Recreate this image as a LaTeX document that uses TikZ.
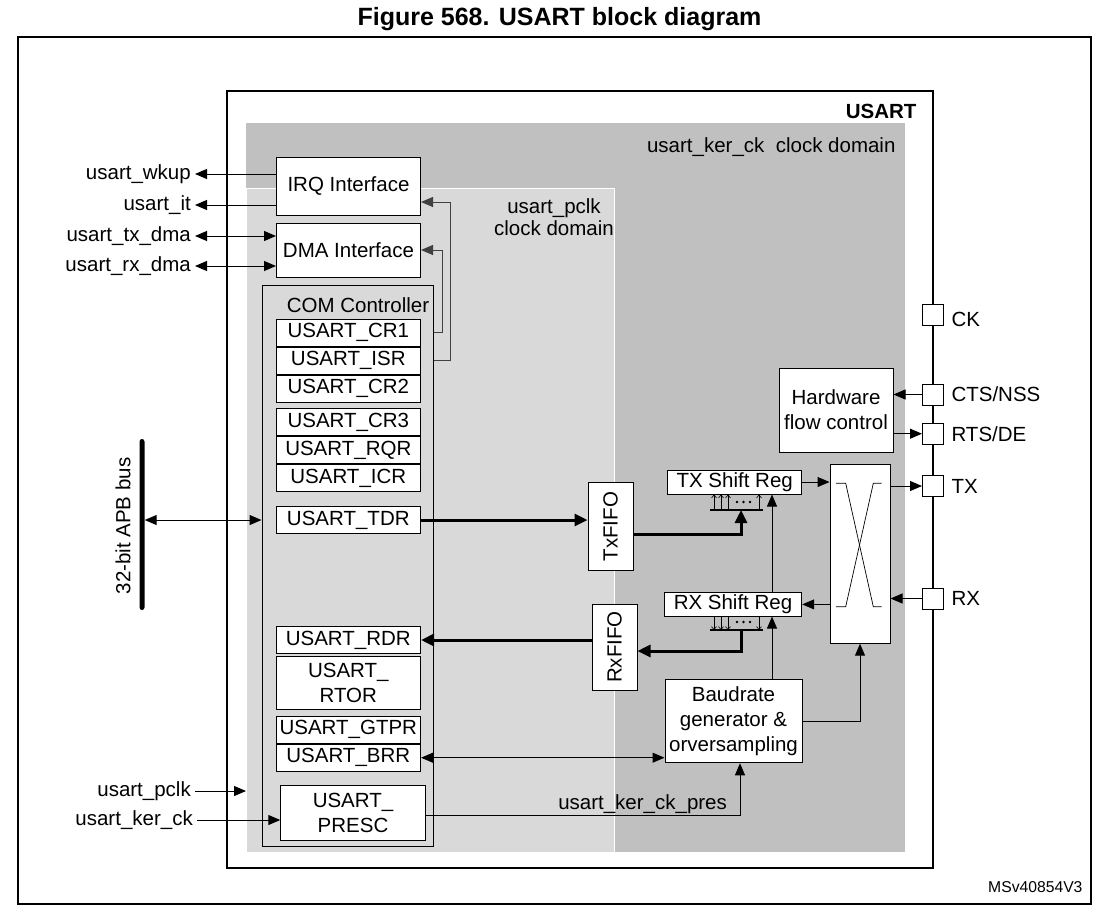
\documentclass[tikz,border=0pt]{standalone}
\usepackage{fontspec}
\setmainfont{Liberation Sans}
\usetikzlibrary{arrows.meta,positioning,calc}
\definecolor{kergray}{HTML}{C0C0C0}
\definecolor{pclkgray}{HTML}{D9D9D9}
\definecolor{fbline}{HTML}{404040}
\tikzset{
  blk/.style={draw, fill=white, line width=1pt, inner sep=0pt, align=center},
  regbox/.style={blk, minimum width=144.5pt, minimum height=27pt},
  pinbox/.style={draw, fill=white, line width=1pt, minimum size=21pt, inner sep=0pt},
  sig/.style={anchor=east, inner sep=4pt},
  arr/.style={-{Triangle[length=12pt,width=10pt]}, line width=1pt},
  darr/.style={{Triangle[length=12pt,width=10pt]}-{Triangle[length=12pt,width=10pt]}, line width=1pt},
  thk/.style={-{Triangle[length=13pt,width=12pt]}, line width=3pt},
  bitarr/.style={-{Straight Barb[length=3pt,width=5pt]}, line width=0.6pt}
}
\begin{document}
\begin{tikzpicture}[x=1pt, y=-1pt, font=\fontsize{20.5}{25}\selectfont]
\useasboundingbox (0,0) rectangle (1118,922);
\node[font=\fontsize{25}{30}\selectfont\bfseries] (title) at (559.5,19) {Figure 568. USART block diagram};
\draw[line width=2.2pt] (18,37) rectangle (1091,904);
% clock domains
\node[fill=kergray, anchor=north west, minimum width=659pt, minimum height=729pt, inner sep=0pt] (kerdom) at (246,123) {};
\node[fill=pclkgray, draw=white, line width=1pt, anchor=north west, minimum width=368pt, minimum height=664pt, inner sep=0pt] (pclkdom) at (246,188) {};
\node[draw, line width=1.5pt, anchor=north west, minimum width=706pt, minimum height=777pt, inner sep=0pt] (usart) at (226,90) {};
\node[anchor=east, font=\fontsize{20.5}{25}\selectfont\bfseries] (usartlbl) at (920,111) {USART};
\node[anchor=east] (kerlbl) at (899,147) {usart\_ker\_ck~ clock domain};
\node[align=center, font=\fontsize{20.5}{22}\selectfont] (pclklbl) at (554,217) {usart\_pclk\\clock domain};
% interfaces
\node[blk, minimum width=144pt, minimum height=58pt] (irq) at (348.5,186) {IRQ Interface};
\node[blk, minimum width=144pt, minimum height=54pt] (dma) at (348.5,250) {DMA Interface};
% COM controller and registers
\node[draw, line width=1pt, minimum width=171pt, minimum height=561pt, inner sep=0pt] (com) at (347.5,565.5) {};
\node (comlbl) at (358,305) {COM Controller};
\node[regbox] (cr1) at (348.3,332.7) {USART\_CR1};
\node[regbox, below=0pt of cr1] (isr) {USART\_ISR};
\node[regbox, below=0pt of isr] (cr2) {USART\_CR2};
\node[regbox] (cr3) at (348.3,422.3) {USART\_CR3};
\node[regbox, below=0pt of cr3] (rqr) {USART\_RQR};
\node[regbox, below=0pt of rqr] (icr) {USART\_ICR};
\node[regbox] (tdr) at (348.3,520) {USART\_TDR};
\node[regbox] (rdr) at (348.3,640) {USART\_RDR};
\node[regbox, minimum height=52.6pt] (rtor) at (348.3,683) {USART\_\\RTOR};
\node[regbox] (gtpr) at (348.3,729.7) {USART\_GTPR};
\node[regbox, below=0pt of gtpr] (brr) {USART\_BRR};
\node[blk, minimum width=144.5pt, minimum height=55pt] (presc) at (353,812.5) {USART\_\\PRESC};
% external signals
\node[sig] (wkup) at (195,174) {usart\_wkup};
\node[sig] (it) at (195,205) {usart\_it};
\node[sig] (txdma) at (195,236) {usart\_tx\_dma};
\node[sig] (rxdma) at (195,266) {usart\_rx\_dma};
\node[sig] (pclk) at (195,791) {usart\_pclk};
\node[sig] (kerck) at (197,820) {usart\_ker\_ck};
\node[fill=black, minimum width=5pt, minimum height=171pt, inner sep=0pt, rounded corners=2.5pt] (apb) at (142,524.5) {};
\node[rotate=90] (apblbl) at (123,526) {32-bit APB bus};
% data path
\node[blk, minimum width=45pt, minimum height=88pt] (txfifo) at (610.5,526.7) {\rotatebox{90}{TxFIFO}};
\node[blk, minimum width=45pt, minimum height=86pt] (rxfifo) at (614.5,647) {\rotatebox{90}{RxFIFO}};
\node[blk, minimum width=134pt, minimum height=24pt] (txsr) at (734.7,482) {TX Shift Reg};
\node[blk, minimum width=137.4pt, minimum height=23.3pt] (rxsr) at (733,604.4) {RX Shift Reg};
\node[blk, minimum width=137pt, minimum height=83.5pt] (baud) at (733.5,721) {Baudrate\\generator \&\\orversampling};
\node[blk, minimum width=114pt, minimum height=84pt] (hfc) at (836,410) {Hardware\\flow control};
\node[draw, fill=white, line width=1pt, minimum width=60pt, minimum height=179pt, inner sep=0pt] (xbar) at (860,553.7) {};
\draw[line width=0.7pt] (836,483.3) -- (845.7,483.3) -- (873.3,606.7) -- (881.7,606.7);
\draw[line width=0.7pt] (881.7,483.3) -- (873.3,483.3) -- (845.7,606.7) -- (836,606.7);
% pins
\node[pinbox] (ck) at (933,314.5) {};
\node[pinbox] (cts) at (933,394.5) {};
\node[pinbox] (rts) at (933,433.7) {};
\node[pinbox] (tx) at (933,486) {};
\node[pinbox] (rx) at (933,598.5) {};
\node[right=4pt of ck, yshift=-5pt] (cklbl) {CK};
\node[right=4pt of cts] (ctslbl) {CTS/NSS};
\node[right=4pt of rts] (rtslbl) {RTS/DE};
\node[right=4pt of tx] (txlbl) {TX};
\node[right=4pt of rx] (rxlbl) {RX};
% parallel bits
\coordinate (txbar) at (741,510);
\coordinate (rxbar) at (741,630);
\coordinate (clkx) at (772,0);
\foreach \bx in {714,721,728,759} \draw[bitarr] (\bx,510) -- (\bx,494.5);
\foreach \bx in {714,721,728,759} \draw[bitarr] (\bx,616.5) -- (\bx,630);
\draw[line width=2pt] (710,510) -- (763,510);
\draw[line width=2pt] (710,630) -- (763,630);
\foreach \dx in {737,743.5,750} {
  \fill (\dx,502) circle (1.3pt);
  \fill (\dx,622) circle (1.3pt);
}
% connections
\draw[arr] (irq.west |- wkup) -- (wkup.east);
\draw[arr] (irq.west |- it) -- (it.east);
\draw[darr] (txdma.east) -- (txdma.east -| dma.west);
\draw[darr] (rxdma.east) -- (rxdma.east -| dma.west);
\draw[arr, draw=fbline] (com.east |- isr) -- ++(17,0) |- ([yshift=-16pt]irq.east);
\draw[arr, draw=fbline] (com.east |- cr1) -- ++(9,0) |- (dma.east);
\draw[darr] (apb.east |- tdr) -- (com.west |- tdr);
\draw[thk] (tdr.east) -- (tdr.east -| txfifo.west);
\draw[thk] ([yshift=-8pt]txfifo.east) -| (txbar);
\draw[thk] (rxbar) |- ([yshift=-4pt]rxfifo.east);
\draw[thk] (rdr.east -| rxfifo.west) -- (rdr.east);
\draw[arr] (baud.north -| clkx) -- (rxsr.south -| clkx);
\draw[arr] (rxsr.north -| clkx) -- (txsr.south -| clkx);
\draw[arr] (baud.east) -| (xbar.south);
\draw[darr] (brr.east) -- (brr.east -| baud.west);
\draw[arr] ([yshift=-2.5pt]presc.east) -| ([xshift=6.5pt]baud.south) node[pos=0.345, above, inner sep=1pt] {usart\_ker\_ck\_pres};
\draw[arr] (kerck.east) -- (kerck.east -| presc.west);
\draw[arr] (pclk.east) -- (pclk.east -| pclkdom.west);
\draw[arr] (txsr.east) -- (txsr.east -| xbar.west);
\draw[arr] (rxsr.east -| xbar.west) -- (rxsr.east);
\draw[arr] (cts.west) -- (cts.west -| hfc.east);
\draw[arr] (rts.west -| hfc.east) -- (rts.west);
\draw[arr] (tx.west -| xbar.east) -- (tx.west);
\draw[arr] (rx.west) -- (rx.west -| xbar.east);
\node[anchor=east, font=\fontsize{15.7}{18}\selectfont] (docid) at (1086,887) {MSv40854V3};
\end{tikzpicture}
\end{document}
